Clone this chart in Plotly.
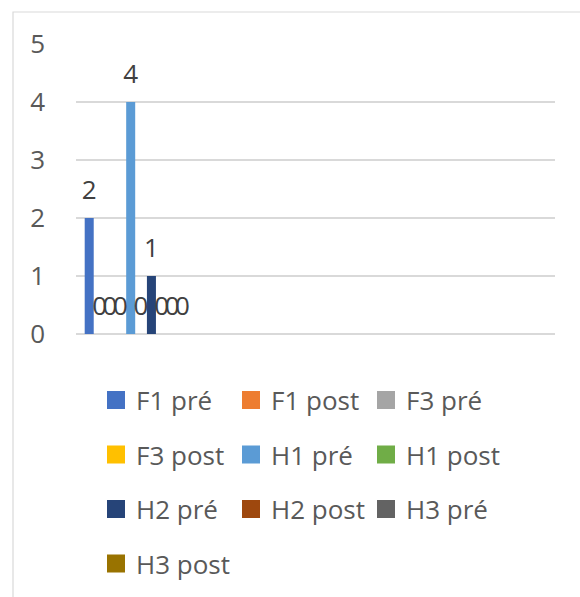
import plotly.graph_objects as go

categories = ["1", "2", "3", "4"]
series = ["F1 pré", "F1 post", "F3 pré", "F3 post", "H1 pré",
          "H1 post", "H2 pré", "H2 post", "H3 pré", "H3 post"]
values = {
    "F1 pré":  [2, None, None, None],
    "F1 post": [0, None, None, None],
    "F3 pré":  [0, None, None, None],
    "F3 post": [0, None, None, None],
    "H1 pré":  [4, None, None, None],
    "H1 post": [0, None, None, None],
    "H2 pré":  [1, None, None, None],
    "H2 post": [0, None, None, None],
    "H3 pré":  [0, None, None, None],
    "H3 post": [0, None, None, None],
}
colors = ["#4472C4", "#ED7D31", "#A5A5A5", "#FFC000", "#5B9BD5",
          "#70AD47", "#264478", "#9E480E", "#636363", "#997300"]
y_ticks = [0, 1, 2, 3, 4, 5]

FONT = "Open Sans"
TXT = "#595959"
GRID = "#d9d9d9"
FS = 26

fig = go.Figure()

# bars
for s, c in zip(series, colors):
    fig.add_trace(go.Bar(x=categories, y=values[s], name=s, marker_color=c,
                         marker_line_width=0, showlegend=False, hoverinfo="skip"))

# data labels (grouped scatter, aligned with bar slots)
for s in series:
    vals = values[s]
    fig.add_trace(go.Scatter(
        x=categories, y=vals, mode="markers+text",
        text=[("" if v is None else str(v)) for v in vals],
        textposition="top center",
        textfont=dict(family=FONT, size=FS, color="#404040"),
        marker=dict(size=18, opacity=0),
        showlegend=False, hoverinfo="skip", cliponaxis=False))

# legend: 3 columns x 4 rows, one small legend per entry
W, H = 580, 597
COLS = 3
col_x0, col_step = 96, 135
row_y0, row_step = 400, 54.5
legend_layout = {}
for i, (s, c) in enumerate(zip(series, colors)):
    lname = "legend" if i == 0 else f"legend{i + 1}"
    fig.add_trace(go.Scatter(
        x=[None], y=[None], mode="markers", name=s,
        marker=dict(symbol="square", size=16, color=c, line=dict(color=c, width=2)),
        xaxis="x2", yaxis="y2", legend=lname, hoverinfo="skip"))
    r, col = divmod(i, COLS)
    legend_layout[lname] = dict(
        orientation="h", xref="container", yref="container",
        x=(col_x0 + col * col_step) / W, xanchor="left",
        y=1 - (row_y0 + r * row_step) / H, yanchor="middle",
        font=dict(family=FONT, size=FS, color=TXT),
        bgcolor="rgba(0,0,0,0)", borderwidth=0)

# plot area: x 76..555, y 44..334
L, R, T, B = 76, 25, 44, 263
pw, ph = W - L - R, H - T - B

def px_x(p):
    return (p - L) / pw

def px_y(p):
    return (H - B - p) / ph

fig.update_layout(
    width=W, height=H,
    margin=dict(l=L, r=R, t=T, b=B, pad=0, autoexpand=False),
    paper_bgcolor="white", plot_bgcolor="white",
    barmode="group", bargap=0.134, bargroupgap=0.13,
    scattermode="group", scattergap=0.134,
    font=dict(family=FONT, color=TXT),
    xaxis=dict(type="category", categoryorder="array", categoryarray=categories,
               showticklabels=False, showgrid=False, zeroline=False, showline=False,
               ticks=""),
    yaxis=dict(range=[0, 5], tickvals=y_ticks, showgrid=True, gridcolor=GRID,
               gridwidth=1.5, zeroline=True, zerolinecolor=GRID, zerolinewidth=1.5,
               showline=False, ticks="", ticklabelstandoff=30,
               tickfont=dict(family=FONT, size=FS, color=TXT)),
    xaxis2=dict(overlaying="x", visible=False),
    yaxis2=dict(overlaying="y", visible=False),
    shapes=[dict(type="rect", xref="paper", yref="paper",
                 x0=px_x(13), x1=px_x(600), y0=px_y(620), y1=px_y(12),
                 line=dict(color=GRID, width=1.2), fillcolor="rgba(0,0,0,0)", layer="below")],
    showlegend=True,
    **legend_layout,
)

fig.write_html("out.html", config={"displayModeBar": False},
               post_script="document.body.style.margin='0';")
